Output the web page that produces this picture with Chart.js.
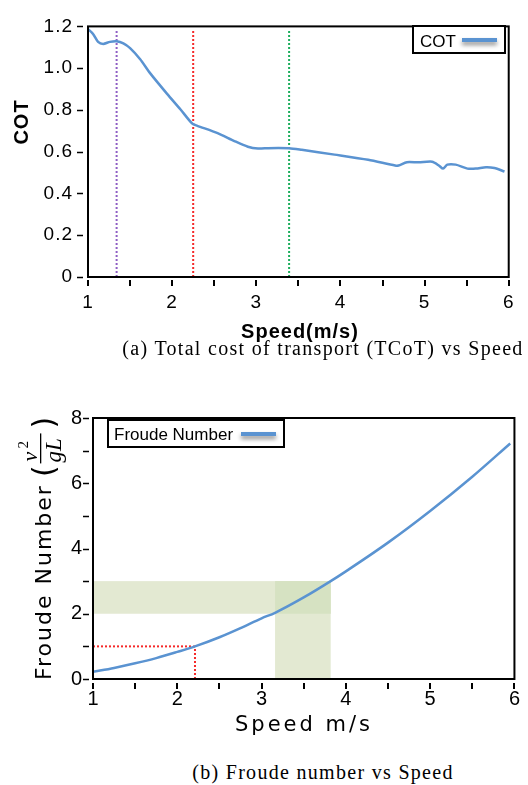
<!DOCTYPE html>
<html>
<head>
<meta charset="utf-8">
<script src="https://cdn.jsdelivr.net/npm/chart.js@4.4.1/dist/chart.umd.min.js"></script>
<style>
body { margin: 0; background: #fff; width: 528px; height: 785px; position: relative; overflow: hidden; }
#chartA { position: absolute; left: 0; top: 0; }
#chartB { position: absolute; left: 0; top: 395px; }
.cap { position: absolute; left: 0; width: 646px; text-align: center; font-family: "Liberation Serif", serif;
       font-size: 20px; letter-spacing: 1.3px; color: #000; white-space: nowrap; line-height: 22px; }
</style>
</head>
<body>
<canvas id="chartA" width="528" height="345"></canvas>
<div class="cap" style="top:337px">(a) Total cost of transport (TCoT) vs Speed</div>
<canvas id="chartB" width="528" height="360"></canvas>
<div class="cap" style="top:761px">(b) Froude number vs Speed</div>
<script>
//panel (a): cost of transport vs speed
const cotSpeed = [1.00, 1.06, 1.12, 1.18, 1.26, 1.34, 1.42, 1.50, 1.62, 1.74,
                  1.94, 2.10, 2.24, 2.30, 2.54, 2.74, 2.90, 3.02, 3.14, 3.26,
                  3.39, 3.54, 3.93, 4.33, 4.65, 4.69, 4.79, 4.93, 5.09, 5.17,
                  5.22, 5.27, 5.37, 5.51, 5.61, 5.73, 5.83, 5.95];
const cotValues = [1.187, 1.164, 1.126, 1.116, 1.126, 1.129, 1.119, 1.096, 1.043, 0.975,
                   0.877, 0.802, 0.734, 0.724, 0.689, 0.651, 0.624, 0.615, 0.617, 0.618,
                   0.617, 0.609, 0.586, 0.561, 0.534, 0.534, 0.550, 0.549, 0.552, 0.534,
                   0.519, 0.538, 0.538, 0.519, 0.519, 0.526, 0.522, 0.505];
//dotted vertical markers in panel (a)
const markerSpeeds = [1.34, 2.25, 3.39];
const markerColors = ['#8f5fc4', '#f52a2a', '#1cae5c'];
const markerTop = 1.186;
const cotYTicks = [0, 0.2, 0.4, 0.6, 0.8, 1.0, 1.2];

//panel (b): froude number vs speed
const froudeSpeed = [1.00, 1.25, 1.50, 1.75, 2.00, 2.21, 2.50, 2.75, 3.00, 3.16,
                     3.50, 3.82, 4.00, 4.50, 5.00, 5.50, 5.95];
const froudeValues = [0.22, 0.34, 0.48, 0.64, 0.83, 1.00, 1.28, 1.56, 1.86, 2.03,
                      2.50, 3.00, 3.30, 4.18, 5.15, 6.20, 7.22];
//shaded ranges and red reference in panel (b)
const bandFroude = [2, 3];
const bandSpeed = [3.16, 3.82];
const refSpeed = 2.21;
const refFroude = 1;

const xTickLabels = ['1', '2', '3', '4', '5', '6'];
const BLUE = '#5a93d1';

//draws the box round the plot and the small tick dashes
var frameTicks = function(chart, o) {
	var ctx = chart.ctx, a = chart.chartArea;
	var xs = chart.scales.x, ys = chart.scales.y;
	ctx.save();
	ctx.strokeStyle = '#000';
	ctx.lineWidth = 2;
	ctx.beginPath();
	xs.ticks.forEach(function(t) {
		var px = Math.round(xs.getPixelForValue(t.value));
		ctx.moveTo(px, a.bottom + o.xGap);
		ctx.lineTo(px, a.bottom + o.xGap + o.len);
	});
	ctx.stroke();
	ctx.lineWidth = 1.6;
	ctx.beginPath();
	ys.ticks.forEach(function(t) {
		var py = Math.round(ys.getPixelForValue(t.value)) + 0.5;
		ctx.moveTo(a.left - o.yGap, py);
		ctx.lineTo(a.left - o.yGap - o.len, py);
	});
	ctx.stroke();
	ctx.lineWidth = 2;
	ctx.strokeRect(a.left, a.top, a.right - a.left, a.bottom - a.top);
	ctx.restore();
}

//legend box: text first then a line sample with a soft shadow
var drawLegend = function(ctx, L) {
	ctx.save();
	ctx.fillStyle = '#fff';
	ctx.fillRect(L.x0, L.y0, L.x1 - L.x0, L.y1 - L.y0);
	ctx.strokeStyle = '#000';
	ctx.lineWidth = 2;
	ctx.strokeRect(L.x0, L.y0, L.x1 - L.x0, L.y1 - L.y0);
	ctx.fillStyle = '#000';
	ctx.font = L.font;
	ctx.textBaseline = 'alphabetic';
	ctx.fillText(L.text, L.tx, L.ty);
	ctx.shadowColor = 'rgba(0,0,0,0.45)';
	ctx.shadowBlur = 4;
	ctx.shadowOffsetY = 3;
	ctx.strokeStyle = BLUE;
	ctx.lineWidth = 4;
	ctx.beginPath();
	ctx.moveTo(L.lx0, L.ly);
	ctx.lineTo(L.lx1, L.ly);
	ctx.stroke();
	ctx.restore();
}

var drawText = function(ctx, text, x, y, font, spacing, rot) {
	ctx.save();
	ctx.translate(x, y);
	if (rot) ctx.rotate(rot);
	ctx.font = font;
	ctx.letterSpacing = spacing;
	ctx.fillStyle = '#000';
	ctx.textAlign = 'center';
	ctx.textBaseline = 'alphabetic';
	ctx.fillText(text, 0, 0);
	ctx.restore();
}

//panel (a)
var markerSets = markerSpeeds.map(function(s, i) {
	return {
		data: [{x: s, y: 0}, {x: s, y: markerTop}],
		borderColor: markerColors[i],
		borderWidth: 2,
		borderDash: [2, 2],
		pointRadius: 0
	};
});

var chartA = new Chart(document.getElementById('chartA'), {
	type: 'line',
	data: {
		datasets: [{
			label: 'COT',
			data: cotSpeed.map(function(s, i) { return {x: s, y: cotValues[i]}; }),
			borderColor: BLUE,
			borderWidth: 2.5,
			pointRadius: 0,
			tension: 0.25
		}].concat(markerSets)
	},
	options: {
		responsive: false,
		animation: false,
		devicePixelRatio: 1,
		layout: {padding: {left: 0, right: 16, top: 12, bottom: 0}},
		plugins: {legend: {display: false}, tooltip: {enabled: false}},
		scales: {
			x: {
				type: 'linear', min: 1, max: 6,
				afterFit: function(s) { s.height = 68; },
				grid: {display: false, drawTicks: false},
				border: {display: false},
				ticks: {
					stepSize: 0.5, autoSkip: false, maxRotation: 0, padding: 14,
					color: '#000', font: {family: 'Liberation Sans', size: 19},
					callback: function(v) { return Number.isInteger(v) ? xTickLabels[v - 1] : ''; }
				}
			},
			y: {
				min: 0, max: 1.2,
				afterFit: function(s) { s.width = 88; },
				afterBuildTicks: function(s) { s.ticks = cotYTicks.map(function(v) { return {value: v}; }); },
				grid: {display: false, drawTicks: false},
				border: {display: false},
				ticks: {
					padding: 15, color: '#000', font: {family: 'Liberation Sans', size: 19},
					callback: function(v) { return v === 0 ? '0' : v.toFixed(1); }
				}
			}
		}
	},
	plugins: [{
		id: 'decorA',
		beforeDraw: function(chart) { chart.ctx.letterSpacing = '1px'; },
		afterDraw: function(chart) {
			var ctx = chart.ctx;
			ctx.letterSpacing = '0px';
			frameTicks(chart, {xGap: 3, yGap: 5, len: 6});
			drawLegend(ctx, {x0: 413, y0: 26, x1: 505, y1: 53, text: 'COT', font: '17px "Liberation Sans"',
				tx: 420, ty: 47, lx0: 462, lx1: 497, ly: 40});
			drawText(ctx, 'Speed(m/s)', 300, 338, 'bold 20px "Liberation Sans"', '1px', 0);
			drawText(ctx, 'COT', 28, 122, 'bold 20px "Liberation Sans"', '1px', -Math.PI / 2);
		}
	}]
});

//panel (b)
var chartB = new Chart(document.getElementById('chartB'), {
	type: 'line',
	data: {
		datasets: [{
			label: 'Froude Number',
			data: froudeSpeed.map(function(s, i) { return {x: s, y: froudeValues[i]}; }),
			borderColor: BLUE,
			borderWidth: 2.5,
			pointRadius: 0,
			cubicInterpolationMode: 'monotone'
		}, {
			data: [{x: 1, y: refFroude}, {x: refSpeed, y: refFroude}],
			borderColor: '#f52a2a', borderWidth: 2, borderDash: [2, 2], pointRadius: 0
		}, {
			data: [{x: refSpeed, y: 0}, {x: refSpeed, y: refFroude}],
			borderColor: '#f52a2a', borderWidth: 2, borderDash: [2, 2], pointRadius: 0
		}]
	},
	options: {
		responsive: false,
		animation: false,
		devicePixelRatio: 1,
		layout: {padding: {left: 0, right: 11, top: 17, bottom: 0}},
		plugins: {legend: {display: false}, tooltip: {enabled: false}},
		scales: {
			x: {
				type: 'linear', min: 1, max: 6,
				afterFit: function(s) { s.height = 76; },
				grid: {display: false, drawTicks: false},
				border: {display: false},
				ticks: {
					stepSize: 0.5, autoSkip: false, maxRotation: 0, padding: 8,
					color: '#000', font: {family: 'Liberation Sans', size: 20},
					callback: function(v) { return Number.isInteger(v) ? xTickLabels[v - 1] : ''; }
				}
			},
			y: {
				min: 0, max: 8,
				afterFit: function(s) { s.width = 93; },
				grid: {display: false, drawTicks: false},
				border: {display: false},
				ticks: {
					stepSize: 1, padding: 11, color: '#000', font: {family: 'Liberation Sans', size: 20},
					callback: function(v) { return v % 2 === 0 ? String(v) : ''; }
				}
			}
		}
	},
	plugins: [{
		id: 'decorB',
		beforeDatasetsDraw: function(chart) {
			var ctx = chart.ctx, xs = chart.scales.x, ys = chart.scales.y;
			var xa = xs.getPixelForValue(1), xb = xs.getPixelForValue(bandSpeed[0]), xc = xs.getPixelForValue(bandSpeed[1]);
			var y0 = ys.getPixelForValue(0), y2 = ys.getPixelForValue(bandFroude[0]), y3 = ys.getPixelForValue(bandFroude[1]);
			ctx.save();
			ctx.fillStyle = '#e3e9d2';
			ctx.fillRect(xa, y3, xc - xa, y2 - y3);
			ctx.fillRect(xb, y3, xc - xb, y0 - y3);
			ctx.fillStyle = '#d6e2c2';
			ctx.fillRect(xb, y3, xc - xb, y2 - y3);
			ctx.restore();
		},
		afterDraw: function(chart) {
			var ctx = chart.ctx;
			frameTicks(chart, {xGap: 4, yGap: 4, len: 6});
			drawLegend(ctx, {x0: 108, y0: 25, x1: 284, y1: 52, text: 'Froude Number', font: '17px "Liberation Sans"',
				tx: 114, ty: 45, lx0: 241, lx1: 276, ly: 39});
			drawText(ctx, 'Speed m/s', 304, 336, '21px "DejaVu Sans"', '3px', 0);
			//rotated y title with the v^2/(gL) fraction
			ctx.save();
			ctx.translate(51, 285);
			ctx.rotate(-Math.PI / 2);
			ctx.fillStyle = '#000';
			ctx.textBaseline = 'alphabetic';
			ctx.font = '22px "DejaVu Sans"';
			ctx.letterSpacing = '2px';
			ctx.fillText('Froude Number', 0, 0);
			var u = ctx.measureText('Froude Number').width + 7;
			ctx.letterSpacing = '0px';
			ctx.font = '30px "DejaVu Sans"';
			ctx.fillText('(', u, 3);
			u += ctx.measureText('(').width + 2;
			ctx.font = 'italic 22px "Liberation Serif"';
			ctx.fillText('v', u + 2, -14);
			ctx.font = '15px "Liberation Serif"';
			ctx.fillText('2', u + 15, -23);
			ctx.font = 'italic 23px "Liberation Serif"';
			ctx.fillText('gL', u + 1, 10);
			ctx.fillRect(u, -11, 30, 1.3);
			u += 35;
			ctx.font = '30px "DejaVu Sans"';
			ctx.fillText(')', u, 3);
			ctx.restore();
		}
	}]
});
</script>
</body>
</html>
